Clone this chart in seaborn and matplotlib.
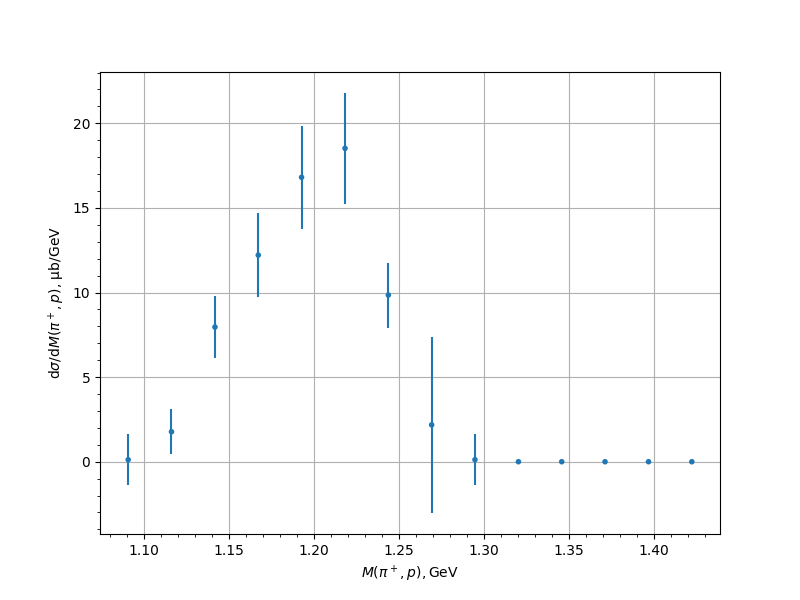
import matplotlib
matplotlib.use("Agg")
import matplotlib.pyplot as plt
import seaborn as sns
import pandas as pd

mass = [1.0905, 1.1160, 1.1416, 1.1671, 1.1926, 1.2182, 1.2437,
        1.2692, 1.2947, 1.3203, 1.3458, 1.3713, 1.3969, 1.4224]
xsec = [0.12, 1.77, 7.96, 12.21, 16.81, 18.52, 9.85,
        2.18, 0.12, 0.0, 0.0, 0.0, 0.0, 0.0]
xsec_err = [1.50, 1.33, 1.85, 2.50, 3.03, 3.27, 1.92,
            5.21, 1.52, 0.0, 0.0, 0.0, 0.0, 0.0]

df = pd.DataFrame({"mass": mass, "xsec": xsec, "err": xsec_err})

fig, ax = plt.subplots(figsize=(8, 6), dpi=100)
ax.errorbar(df["mass"], df["xsec"], yerr=df["err"], fmt="none",
            ecolor="#1f77b4", elinewidth=1.5)
sns.scatterplot(data=df, x="mass", y="xsec", ax=ax, s=16,
                color="#1f77b4", edgecolor="none", zorder=3)

ax.set_xlabel(r"$M(\pi^+, p), \mathrm{GeV}$")
ax.set_ylabel(r"$\mathrm{d}\sigma/\mathrm{d}M(\pi^+, p)$, μb/GeV")
ax.minorticks_on()
ax.grid(True, which="major")
ax.margins(0.05)

fig.savefig("out.png", dpi=100)
